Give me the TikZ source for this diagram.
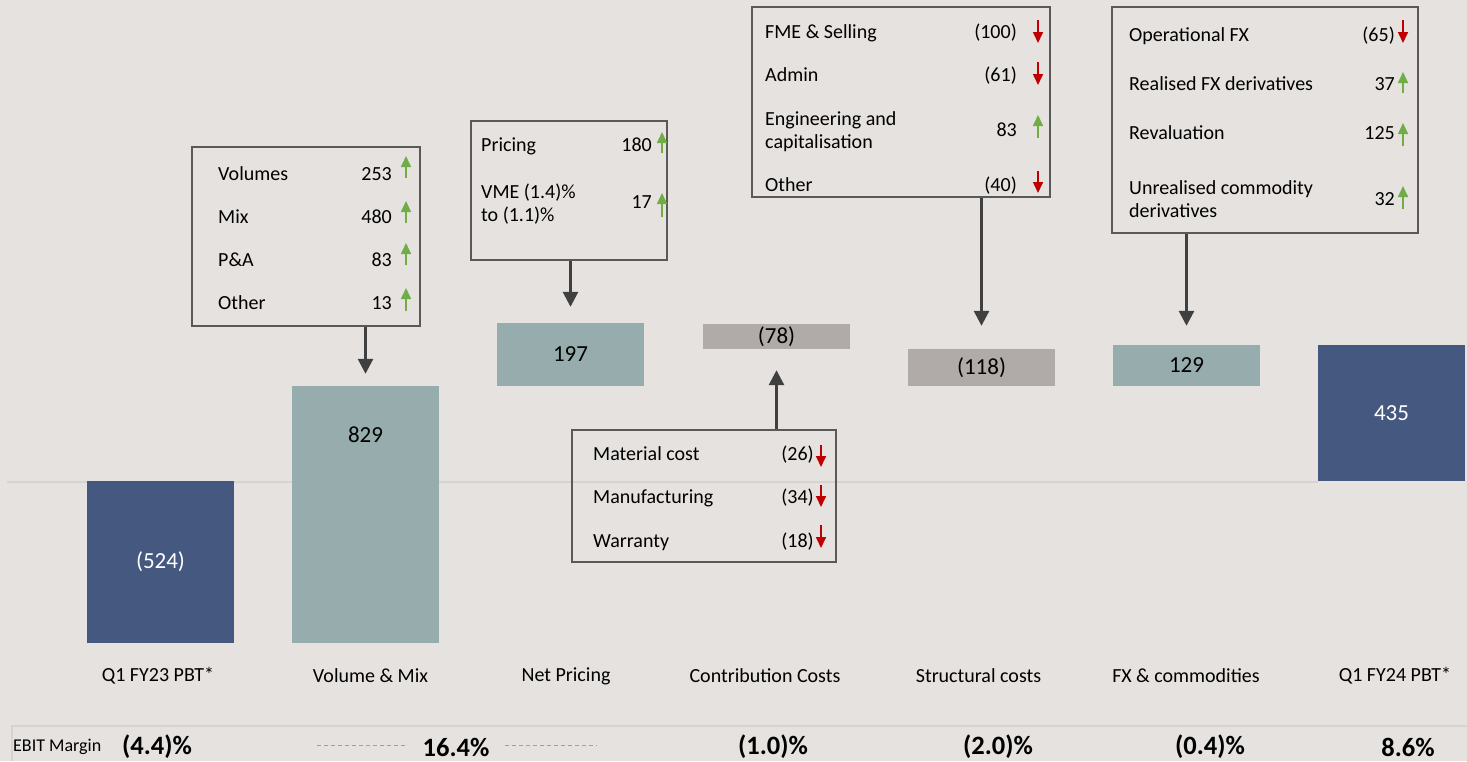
\documentclass[tikz,border=0pt]{standalone}
\usepackage{fontspec}
\setmainfont{Carlito}
\usetikzlibrary{arrows.meta}
\definecolor{bg}{RGB}{229,226,223}
\definecolor{navy}{RGB}{69,88,128}
\definecolor{tealg}{RGB}{151,173,173}
\definecolor{grayb}{RGB}{176,171,169}
\definecolor{boxc}{RGB}{89,89,89}
\definecolor{connc}{RGB}{64,64,64}
\definecolor{upg}{RGB}{112,173,71}
\definecolor{downr}{RGB}{192,0,0}
\definecolor{faint}{RGB}{214,211,208}
\definecolor{dashc}{RGB}{160,160,160}
\begin{document}
\begin{tikzpicture}[x=1pt,y=-1pt,
  bar/.style={inner sep=0, minimum width=147pt, font=\fontsize{23}{27}\selectfont},
  barlabel/.style={inner sep=0, font=\fontsize{23}{27}\selectfont},
  box/.style={draw=boxc, line width=1.3pt, inner sep=0},
  rowtxt/.style={anchor=base west, inner sep=0, align=left, font=\fontsize{20}{23.5}\selectfont},
  rownum/.style={anchor=base east, inner sep=0, font=\fontsize{20}{23.5}\selectfont},
  conn/.style={draw=connc, line width=2.8pt, -{Triangle[width=15pt,length=15pt]}},
  uparrow/.style={draw=upg, line width=1.6pt, -{Triangle[width=10pt,length=11pt]}},
  downarrow/.style={draw=downr, line width=1.6pt, -{Triangle[width=10pt,length=11pt]}},
  catlabel/.style={inner sep=0, font=\fontsize{20}{24}\selectfont},
  pct/.style={inner sep=0, font=\fontsize{26.5}{30}\selectfont\bfseries},
  dashline/.style={draw=dashc, line width=0.9pt, dash pattern=on 4pt off 3pt}
]
\useasboundingbox[fill=bg] (0,0) rectangle (1467,761);

% baseline and bottom band
\draw[faint, line width=2pt] (7,481.5) -- (1318,481.5);
\draw[faint, line width=2pt] (12,761) -- (12,726) -- (1467,726);

% bars
\node[bar,fill=navy,minimum height=162pt,text=white] (b1) at (160.5,562) {(524)};
\node[bar,fill=tealg,minimum height=257pt] (b2) at (365.5,514.5) {};
\node[barlabel] (b2t) at (365.5,435) {829};
\node[bar,fill=tealg,minimum height=63pt] (b3) at (570.5,354.5) {\raisebox{-2pt}{197}};
\node[bar,fill=grayb,minimum height=25pt] (b4) at (776.5,336.5) {\raisebox{-1.5pt}{(78)}};
\node[bar,fill=grayb,minimum height=37pt] (b5) at (981.5,367.5) {(118)};
\node[bar,fill=tealg,minimum height=41pt] (b6) at (1186.5,365.5) {129};
\node[bar,fill=navy,minimum height=136pt,text=white] (b7) at (1391.5,413) {435};

% boxes
\node[box,minimum width=228pt,minimum height=179pt] (volbox) at (306,236.5) {};
\node[box,minimum width=196pt,minimum height=139pt] (npbox) at (569,190.5) {};
\node[box,minimum width=264pt,minimum height=132pt] (ccbox) at (704,496) {};
\node[box,minimum width=298pt,minimum height=190pt] (scbox) at (901,102) {};
\node[box,minimum width=306pt,minimum height=226pt] (fxbox) at (1265,120) {};

% connectors
\draw[conn, shorten >=12pt] (b2.north |- volbox.south) -- (b2.north);
\draw[conn, shorten >=16pt] (b3.north |- npbox.south) -- (b3.north);
\draw[conn, shorten >=23pt] (b5.north |- scbox.south) -- (b5.north);
\draw[conn, shorten >=19pt] (b6.north |- fxbox.south) -- (b6.north);
\draw[conn, shorten >=21pt] (b4.south |- ccbox.north) -- (b4.south);

% Volume box rows
\node[rowtxt] (v1) at (218,180) {Volumes};
\node[rownum] (v1n) at (392,180) {253};
\draw[uparrow] (406,178) -- (406,156);
\node[rowtxt] (v2) at (218,223.5) {Mix};
\node[rownum] (v2n) at (392,223.5) {480};
\draw[uparrow] (406,223) -- (406,201);
\node[rowtxt] (v3) at (218,266.5) {P\&A};
\node[rownum] (v3n) at (392,266.5) {83};
\draw[uparrow] (406,265) -- (406,243);
\node[rowtxt] (v4) at (218,309.5) {Other};
\node[rownum] (v4n) at (392,309.5) {13};
\draw[uparrow] (406,311) -- (406,288);

% Net pricing box rows
\node[rowtxt] (p1) at (481,151) {Pricing};
\node[rownum] (p1n) at (652,151) {180};
\draw[uparrow] (662,153) -- (662,132);
\node[rowtxt] (p2) at (481,221.5) {VME (1.4)\%\\to (1.1)\%};
\node[rownum] (p2n) at (652,208.5) {17};
\draw[uparrow] (662,217) -- (662,193);

% Contribution costs box rows
\node[rowtxt] (c1) at (593,460) {Material cost};
\node[rownum] (c1n) at (814,460) {(26)};
\draw[downarrow] (821,445) -- (821,467);
\node[rowtxt] (c2) at (593,503.5) {Manufacturing};
\node[rownum] (c2n) at (814,503.5) {(34)};
\draw[downarrow] (821,485) -- (821,507);
\node[rowtxt] (c3) at (593,547.5) {Warranty};
\node[rownum] (c3n) at (814,547.5) {(18)};
\draw[downarrow] (821,525) -- (821,548);

% Structural costs box rows
\node[rowtxt] (s1) at (765,38.5) {FME \& Selling};
\node[rownum] (s1n) at (1017,38.5) {(100)};
\draw[downarrow] (1038,20) -- (1038,43);
\node[rowtxt] (s2) at (765,81.5) {Admin};
\node[rownum] (s2n) at (1017,81.5) {(61)};
\draw[downarrow] (1038,62) -- (1038,85);
\node[rowtxt] (s3) at (765,148.5) {Engineering and\\capitalisation};
\node[rownum] (s3n) at (1017,136) {83};
\draw[uparrow] (1038,138) -- (1038,115);
\node[rowtxt] (s4) at (765,191) {Other};
\node[rownum] (s4n) at (1017,191) {(40)};
\draw[downarrow] (1038,171) -- (1038,193);

% FX box rows
\node[rowtxt] (f1) at (1129,41.5) {Operational FX};
\node[rownum] (f1n) at (1395,41.5) {(65)};
\draw[downarrow] (1403,20) -- (1403,43);
\node[rowtxt] (f2) at (1129,90) {Realised FX derivatives};
\node[rownum] (f2n) at (1395,90) {37};
\draw[uparrow] (1403,93) -- (1403,72);
\node[rowtxt] (f3) at (1129,139.5) {Revaluation};
\node[rownum] (f3n) at (1395,139.5) {125};
\draw[uparrow] (1403,146) -- (1403,123);
\node[rowtxt] (f4) at (1129,217.5) {Unrealised commodity\\derivatives};
\node[rownum] (f4n) at (1395,205.5) {32};
\draw[uparrow] (1403,209) -- (1403,186);

% category labels
\node[catlabel] (l1) at (158,676) {Q1 FY23 PBT*};
\node[catlabel] (l2) at (370.5,676) {Volume \& Mix};
\node[catlabel] (l3) at (566,676) {Net Pricing};
\node[catlabel] (l4) at (765,676) {Contribution Costs};
\node[catlabel] (l5) at (978.5,676) {Structural costs};
\node[catlabel] (l6) at (1186,676) {FX \& commodities};
\node[catlabel] (l7) at (1395,676) {Q1 FY24 PBT*};

% EBIT margin row
\node[inner sep=0, anchor=west, font=\fontsize{18}{21}\selectfont] (ebit) at (13,747) {EBIT Margin};
\node[pct] (m1) at (157,747) {(4.4)\%};
\node[pct] (m2) at (456,747) {16.4\%};
\node[pct] (m4) at (773,747) {(1.0)\%};
\node[pct] (m5) at (998,747) {(2.0)\%};
\node[pct] (m6) at (1210,747) {(0.4)\%};
\node[pct] (m7) at (1408,747) {8.6\%};
\coordinate (d1a) at (317,745);
\coordinate (d1b) at (406,745);
\coordinate (d2a) at (505,745);
\coordinate (d2b) at (597,745);
\draw[dashline] (d1a) -- (d1b);
\draw[dashline] (d2a) -- (d2b);
\end{tikzpicture}
\end{document}
